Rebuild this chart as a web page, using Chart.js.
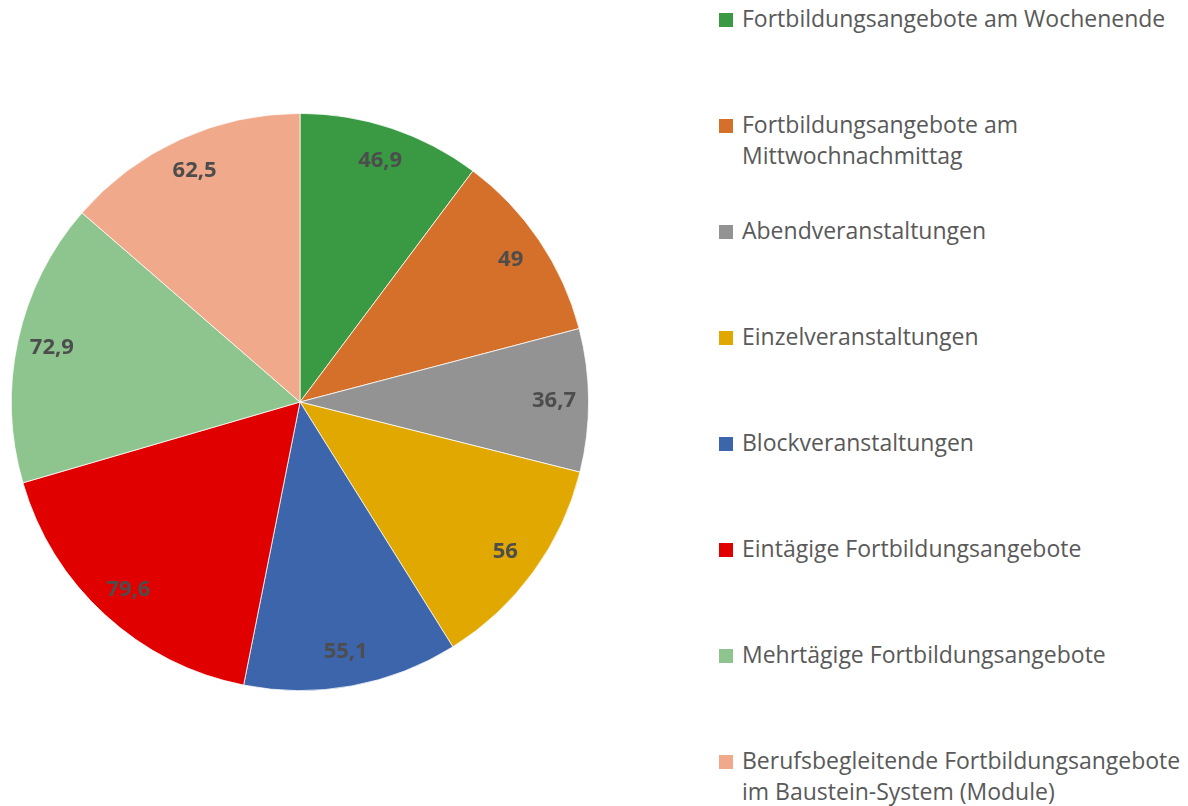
<!DOCTYPE html>
<html lang="de">
<head>
<meta charset="utf-8">
<script src="https://cdn.jsdelivr.net/npm/chart.js@4"></script>
<style>
  html, body { margin: 0; padding: 0; background: #fff; }
  body { width: 1188px; height: 806px; position: relative; overflow: hidden; font-family: "Open Sans", sans-serif; }
  #wrap { position: absolute; left: 0; top: 0; width: 600px; height: 806px; }
  #legend { position: absolute; left: 719px; top: 0; width: 469px; }
  .item { position: absolute; left: 0; width: 469px; }
  .sw { position: absolute; left: 0; width: 14px; height: 14px; }
  .txt { position: absolute; left: 23px; color: #595959; font-size: 23px; line-height: 31px; white-space: nowrap; }
</style>
</head>
<body>
<div id="wrap"><canvas id="pie"></canvas></div>
<div id="legend"></div>
<script>
// Fortbildungsformate — Kreisdiagramm
const labels = [
  ["Fortbildungsangebote am Wochenende"],
  ["Fortbildungsangebote am", "Mittwochnachmittag"],
  ["Abendveranstaltungen"],
  ["Einzelveranstaltungen"],
  ["Blockveranstaltungen"],
  ["Eintägige Fortbildungsangebote"],
  ["Mehrtägige Fortbildungsangebote"],
  ["Berufsbegleitende Fortbildungsangebote", "im Baustein-System (Module)"],
];
const values = [46.9, 49, 36.7, 56, 55.1, 79.6, 72.9, 62.5];
const colors = ["#3a9a43", "#d4702a", "#939393", "#e0a800", "#3c65ab", "#e00000", "#8ec48e", "#f0a98a"];

const fmtDe = (v) => String(v).replace(".", ",");

// legend as plain html, Excel-style spacing
const legend = document.getElementById("legend");
labels.forEach((lines, i) => {
  const top = 3 + i * 106;
  const item = document.createElement("div");
  item.className = "item";
  item.style.top = top + "px";
  item.innerHTML = `<span class="sw" style="top:10px;background:${colors[i]}"></span>
    <span class="txt" style="top:0">${lines.join("<br>")}</span>`;
  legend.appendChild(item);
});

const valueLabels = {
  id: "valueLabels",
  afterDatasetsDraw(chart) {
    const ctx = chart.ctx;
    const meta = chart.getDatasetMeta(0);
    ctx.save();
    ctx.font = "bold 22px 'Open Sans', sans-serif";
    ctx.fillStyle = "#4d4d4d";
    ctx.textAlign = "center";
    ctx.textBaseline = "middle";
    meta.data.forEach((arc, i) => {
      const p = arc.getProps(["x", "y", "startAngle", "endAngle", "outerRadius"], true);
      const a = (p.startAngle + p.endAngle) / 2;
      const r = p.outerRadius * 0.88;
      ctx.fillText(fmtDe(values[i]), p.x + Math.cos(a) * r, p.y + Math.sin(a) * r);
    });
    ctx.restore();
  },
};

new Chart(document.getElementById("pie"), {
  type: "pie",
  data: {
    labels: labels.map((l) => l.join(" ")),
    datasets: [
      {
        data: values,
        backgroundColor: colors,
        borderColor: "#ffffff",
        borderWidth: 0.75,
      },
    ],
  },
  options: {
    responsive: true,
    maintainAspectRatio: false,
    animation: false,
    layout: { padding: { left: 11, right: 11, top: 113, bottom: 115 } },
    plugins: { legend: { display: false }, tooltip: { enabled: false } },
  },
  plugins: [valueLabels],
});
</script>
</body>
</html>
